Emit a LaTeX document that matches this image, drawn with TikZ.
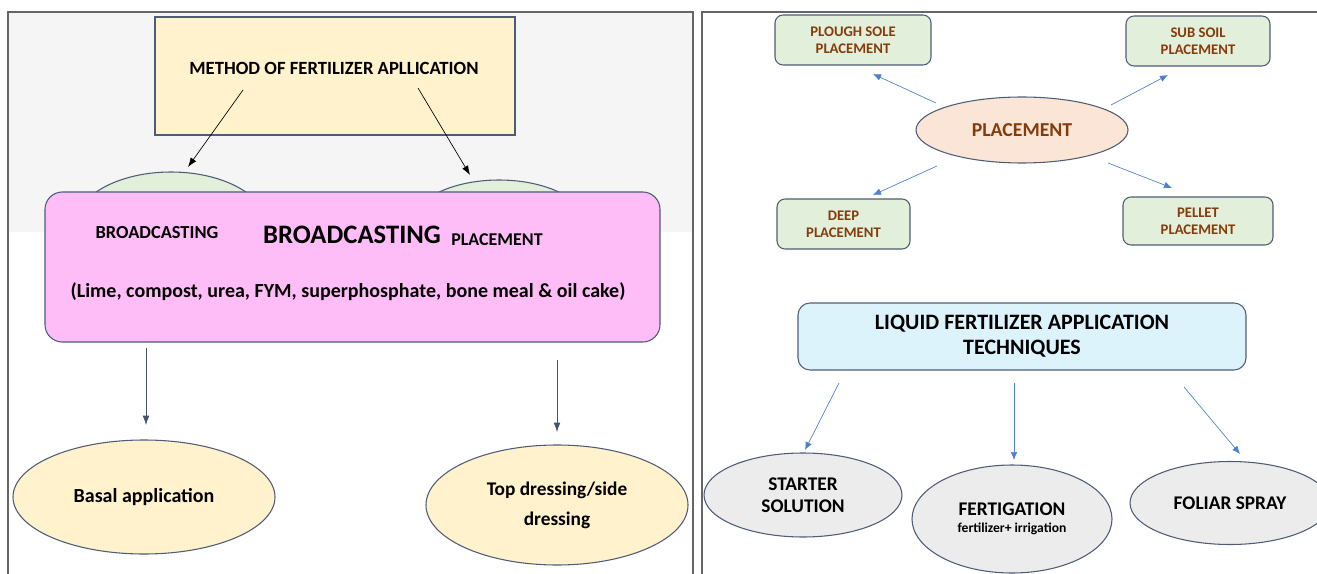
\documentclass[tikz,border=0pt]{standalone}
\usepackage{fontspec}
\setmainfont{Carlito}
\usetikzlibrary{shapes.geometric, arrows.meta, positioning, calc}

\definecolor{panelgray}{HTML}{F5F5F5}
\definecolor{edgeblue}{HTML}{4F5C78}
\definecolor{creamfill}{HTML}{FFF2CC}
\definecolor{pinkfill}{HTML}{FFBDF7}
\definecolor{greenfill}{HTML}{E2EFDA}
\definecolor{peachfill}{HTML}{FBE5D6}
\definecolor{cyanfill}{HTML}{DDF3FB}
\definecolor{grayfill}{HTML}{ECECEC}
\definecolor{browntext}{HTML}{843C0C}
\definecolor{arrowblue}{HTML}{4F7FD0}
\definecolor{arrowslate}{HTML}{44546A}

\tikzset{
  boxnode/.style={draw=edgeblue, line width=0.8pt, align=center, inner sep=0pt},
  ovalnode/.style={ellipse, draw=edgeblue, line width=0.8pt, align=center, inner sep=0pt},
  greenbox/.style={boxnode, fill=greenfill, rounded corners=6pt, text=browntext,
    font=\fontsize{11}{13}\selectfont\bfseries},
  grayoval/.style={ovalnode, fill=grayfill, font=\fontsize{14.5}{16.5}\selectfont\bfseries},
  blackarrow/.style={-{Latex[length=7pt,width=5pt]}, line width=0.5pt, black},
  slatearrow/.style={-{Latex[length=7pt,width=5pt]}, line width=0.5pt, arrowslate},
  bluearrow/.style={-{Latex[length=6pt,width=5pt]}, line width=0.5pt, arrowblue}
}

\begin{document}
\begin{tikzpicture}[x=0.75pt, y=-0.75pt]
  \useasboundingbox (0,0) rectangle (1317,574);
  \clip (0,0) rectangle (1317,574);

  % panels
  \fill[panelgray] (8,12) rectangle (693,232);
  \draw[gray!80!black, line width=0.8pt] (8,578) -- (8,12) -- (693,12) -- (693,578);
  \draw[gray!80!black, line width=0.8pt] (702,578) -- (702,12) -- (1320,12);

  % left panel
  \node[boxnode, fill=creamfill, minimum width=270pt, minimum height=88.5pt] (method) at (335,76) {};
  \node[font=\fontsize{14}{16}\selectfont\bfseries] (methodtxt) at (334,68) {METHOD OF FERTILIZER APLLICATION};
  \node[ovalnode, fill=greenfill, minimum width=145.5pt, minimum height=82.5pt] (bcL) at (171,227) {};
  \node[ovalnode, fill=greenfill, minimum width=138pt, minimum height=75pt] (bcR) at (499,230) {};
  \node[boxnode, fill=pinkfill, rounded corners=13pt, minimum width=461.25pt,
        minimum height=112.5pt] (bcast) at (352.5,267) {};
  \node[font=\fontsize{13.8}{16}\selectfont\bfseries] (bcsmall) at (157,233) {BROADCASTING};
  \node[font=\fontsize{20}{22}\selectfont\bfseries] (bcbig) at (352,235) {BROADCASTING};
  \node[font=\fontsize{13.5}{16}\selectfont\bfseries] (plsmall) at (497,240) {PLACEMENT};
  \node[font=\fontsize{15}{18}\selectfont\bfseries] (items) at (348,292)
        {(Lime, compost, urea, FYM, superphosphate, bone meal \& oil cake)};
  \node[ovalnode, fill=creamfill, minimum width=196.5pt, minimum height=85.5pt,
        font=\fontsize{15}{18}\selectfont\bfseries] (basal) at (144,497) {Basal application};
  \node[ovalnode, fill=creamfill, minimum width=196.5pt, minimum height=90pt,
        font=\fontsize{14.5}{22.5}\selectfont\bfseries] (topdr) at (557,505) {Top dressing/side\\dressing};

  \draw[blackarrow] ([shift={(-92,14)}]method.center) -- ([shift={(17,-60)}]bcL.center);
  \draw[blackarrow] ([shift={(83,12)}]method.center) -- ([shift={(-29,-55)}]bcR.center);
  \draw[slatearrow] ([shift={(-206.5,81)}]bcast.center) -- ([shift={(2,-72)}]basal.center);
  \draw[slatearrow] ([shift={(204.5,93)}]bcast.center) -- ([shift={(0,-73)}]topdr.center);

  % right panel: placement
  \node[ovalnode, fill=peachfill, minimum width=159pt, minimum height=49.5pt, text=browntext,
        font=\fontsize{14.8}{16}\selectfont\bfseries] (place) at (1022,130) {PLACEMENT};
  \node[greenbox, minimum width=117pt, minimum height=37.5pt] (plough) at (853,40) {PLOUGH SOLE\\PLACEMENT};
  \node[greenbox, minimum width=108pt, minimum height=37.5pt] (subsoil) at (1198,41) {SUB SOIL\\PLACEMENT};
  \node[greenbox, minimum width=99.75pt, minimum height=37.5pt] (deep) at (843.5,224) {DEEP\\PLACEMENT};
  \node[greenbox, minimum width=112.5pt, minimum height=36pt] (pellet) at (1198,221) {PELLET\\PLACEMENT};

  \draw[bluearrow] ([shift={(-86,-27)}]place.center) -- ([shift={(20,34)}]plough.center);
  \draw[bluearrow] ([shift={(89,-25)}]place.center) -- ([shift={(-30,34)}]subsoil.center);
  \draw[bluearrow] ([shift={(-85,36)}]place.center) -- ([shift={(29.5,-29)}]deep.center);
  \draw[bluearrow] ([shift={(86,33)}]place.center) -- ([shift={(-26,-33)}]pellet.center);

  % right panel: liquid techniques
  \node[boxnode, fill=cyanfill, rounded corners=9pt, minimum width=336pt, minimum height=50.25pt,
        font=\fontsize{16.5}{18.75}\selectfont\bfseries] (liquid) at (1022,336.5)
        {LIQUID FERTILIZER APPLICATION\\TECHNIQUES};
  \node[grayoval, minimum width=148.5pt, minimum height=63pt] (starter) at (803,495) {STARTER\\SOLUTION};
  \node[grayoval, minimum width=150pt, minimum height=81pt] (fert) at (1012,519)
        {FERTIGATION\\[-4pt]{\fontsize{10.2}{12}\selectfont fertilizer+ irrigation}};
  \node[grayoval, minimum width=150pt, minimum height=62.25pt] (foliar) at (1230,503) {FOLIAR SPRAY};

  \draw[bluearrow] ([shift={(-183,46.5)}]liquid.center) -- ([shift={(2,-45)}]starter.center);
  \draw[bluearrow] ([shift={(-8,46.5)}]liquid.center) -- ([shift={(2,-59)}]fert.center);
  \draw[bluearrow] ([shift={(162,50.5)}]liquid.center) -- ([shift={(10,-49)}]foliar.center);
\end{tikzpicture}
\end{document}
